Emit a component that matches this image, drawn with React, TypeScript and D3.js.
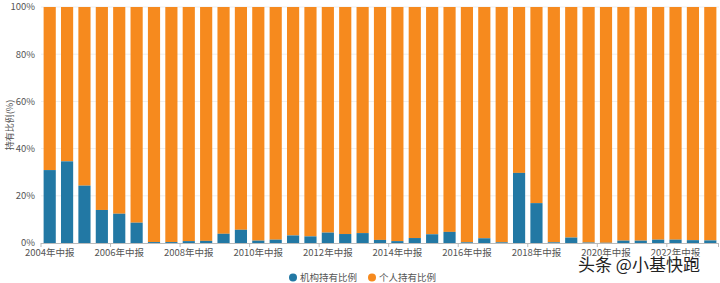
import React from "react";
import * as d3 from "d3";

const years = d3.range(2004, 2024);
const categories: string[] = [];
years.forEach((y) => {
  categories.push(`${y}年中报`);
  if (y < 2023) categories.push(`${y}年年报`);
});

const institutional = [
  30.9, 34.6, 24.3, 14.0, 12.4, 8.6, 0.4, 0.4, 0.8, 0.9,
  3.9, 5.6, 1.0, 1.4, 3.2, 2.8, 4.4, 3.8, 4.2, 1.3,
  0.8, 2.1, 3.7, 4.7, 0.3, 2.0, 0.3, 29.7, 16.9, 0.3,
  2.3, 0.2, 0.1, 1.0, 1.0, 1.4, 1.4, 1.2, 1.1,
];
const individual = institutional.map((v) => +(100 - v).toFixed(1));

const yTicks = [0, 20, 40, 60, 80, 100];
const seriesNames = ["机构持有比例", "个人持有比例"];
const colors = ["#2278a4", "#f68a1e"];

const W = 720;
const H = 283;
const left = 41;
const right = 719;
const top = 7;
const bottom = 243;
const FONT = "'Noto Sans CJK SC', 'Noto Sans', sans-serif";

export default function App() {
  const x = d3
    .scaleBand<string>()
    .domain(categories)
    .range([left, right])
    .paddingInner(0.3)
    .paddingOuter(0.15);
  const y = d3.scaleLinear().domain([0, 100]).range([bottom, top]);
  const step = x.step();
  const labelIdx = categories.map((_, i) => i).filter((i) => i % 4 === 0);

  return (
    <svg
      width={W}
      height={H}
      style={{ position: "absolute", left: 0, top: 0, background: "#fff" }}
      fontFamily={FONT}
    >
      {yTicks.map((t) => (
        <g key={t}>
          {t > 0 && (
            <line x1={left} x2={right} y1={y(t)} y2={y(t)} stroke="#eeeeee" strokeWidth={1} />
          )}
          <text x={35} y={y(t)} dy="0.35em" textAnchor="end" fontSize={9.5} fill="#555">
            {t}%
          </text>
        </g>
      ))}
      <text
        transform={`translate(10,${(top + bottom) / 2}) rotate(-90)`}
        textAnchor="middle"
        dy="0.35em"
        fontSize={9}
        fill="#555"
      >
        持有比例(%)
      </text>
      {categories.map((c, i) => {
        const bx = x(c)!;
        const bw = x.bandwidth();
        return (
          <g key={c}>
            <rect x={bx} width={bw} y={y(100)} height={y(100 - individual[i]) - y(100)} fill={colors[1]} />
            <rect x={bx} width={bw} y={y(institutional[i])} height={bottom - y(institutional[i])} fill={colors[0]} />
          </g>
        );
      })}
      <line x1={left} x2={right} y1={bottom + 0.5} y2={bottom + 0.5} stroke="#bbb" />
      {labelIdx.map((i) => {
        const bx = left + step * i;
        return (
          <g key={i}>
            <line x1={bx} x2={bx} y1={bottom} y2={bottom + 4} stroke="#bbb" />
            <text x={x(categories[i])! + x.bandwidth() / 2} y={bottom + 10} textAnchor="middle" dy="0.35em" fontSize={9.5} fill="#555">
              {categories[i]}
            </text>
          </g>
        );
      })}
      <line x1={right - 0.5} x2={right - 0.5} y1={bottom} y2={bottom + 4} stroke="#bbb" />
      {seriesNames.map((s, i) => {
        const lx = 293 + i * 79;
        return (
          <g key={s}>
            <circle cx={lx} cy={277.5} r={4} fill={colors[i]} />
            <text x={lx + 7} y={277.5} dy="0.35em" fontSize={9.5} fill="#555">
              {s}
            </text>
          </g>
        );
      })}
      <text
        x={578}
        y={271}
        fontSize={17}
        fill="#222"
        stroke="#fff"
        strokeWidth={2.5}
        paintOrder="stroke"
        fontFamily={FONT}
      >
        头条 @小基快跑
      </text>
    </svg>
  );
}
